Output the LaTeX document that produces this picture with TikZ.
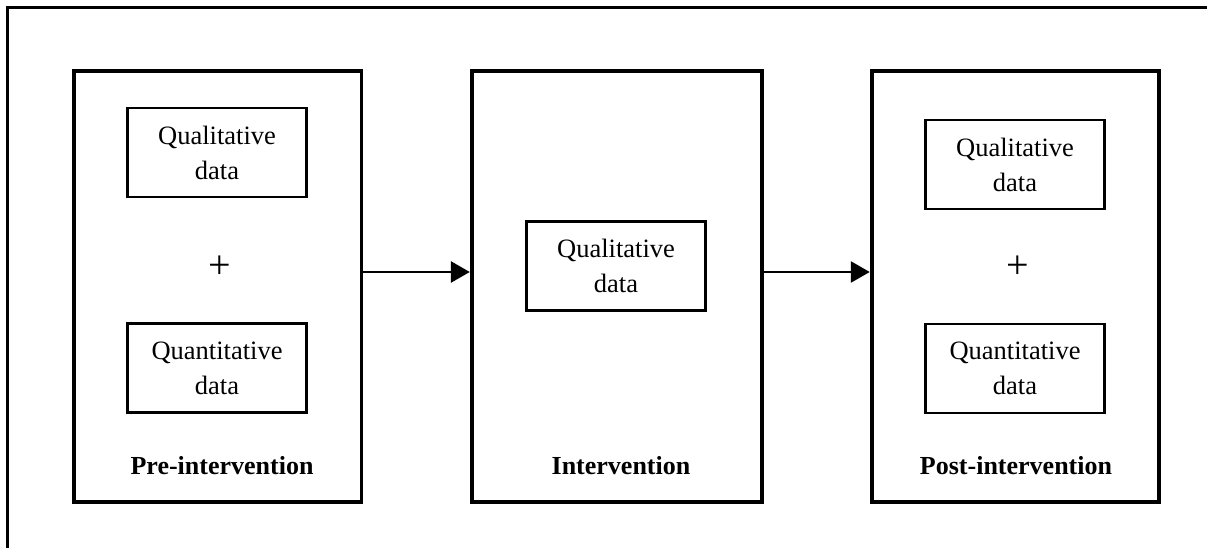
\documentclass[tikz,border=0pt]{standalone}
\usepackage{fontspec}
\setmainfont{Liberation Serif}
\usetikzlibrary{arrows.meta}

\tikzset{
  stage/.style={draw, line width=3.8pt, minimum width=287.5pt, minimum height=431pt, inner sep=0pt},
  databox/.style={draw, line width=2.5pt, minimum width=179pt, minimum height=89pt, inner sep=0pt,
    align=center, font=\fontsize{26.5}{35}\selectfont},
  plussign/.style={font=\fontsize{40}{40}\selectfont, inner sep=0pt},
  stagelabel/.style={anchor=base, inner sep=0pt, font=\fontsize{26}{30}\selectfont\bfseries},
  flow/.style={line width=2.8pt, -{Triangle[length=19pt,width=21pt]}},
}

\begin{document}
\begin{tikzpicture}[x=1pt, y=-1pt]
  \useasboundingbox (0,0) rectangle (1207,548);

  % outer frame
  \draw[line width=3pt] (1220,7.5) -- (7.5,7.5) -- (7.5,560);

  % the three stages
  \node[stage] (pre)  at (217.8,286.5) {};
  \node[stage, minimum width=290pt] (mid) at (616.7,286.5) {};
  \node[stage] (post) at (1015.4,286.5) {};

  % pre-intervention data
  \node[databox] (preql) at (217,152.5) {Qualitative\\data};
  \node[plussign] (preplus) at (220,267) {+};
  \node[databox] (preqn) at (217,368) {Quantitative\\data};
  \node[stagelabel] (prelab) at (222,474) {Pre-intervention};

  % intervention data
  \node[databox] (midql) at (616,266) {Qualitative\\data};
  \node[stagelabel] (midlab) at (621,474) {Intervention};

  % post-intervention data
  \node[databox] (postql) at (1015,164.5) {Qualitative\\data};
  \node[plussign] (postplus) at (1018,267) {+};
  \node[databox] (postqn) at (1015,368.5) {Quantitative\\data};
  \node[stagelabel] (postlab) at (1016,474) {Post-intervention};

  % flow between stages
  \draw[flow] ([yshift=14.5pt]pre.east) -- ([yshift=14.5pt]mid.west);
  \draw[flow] ([yshift=14.5pt]mid.east) -- ([yshift=14.5pt]post.west);
\end{tikzpicture}
\end{document}
